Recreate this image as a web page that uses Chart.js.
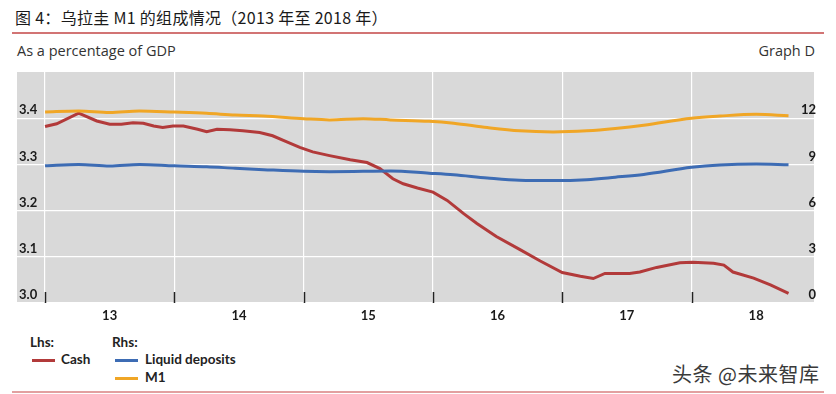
<!DOCTYPE html>
<html lang="zh">
<head>
    <meta charset="UTF-8">
    <title>乌拉圭 M1 的组成情况</title>
    <script src="https://cdn.jsdelivr.net/npm/chart.js"></script>
    <style>
body {
  margin: 0;
  padding: 0;
  width: 836px;
  height: 394px;
  background: #fff;
  position: relative;
  overflow: hidden;
  font-family: 'Open Sans', 'Noto Sans', sans-serif;
  color: #222;
}
.title {
  position: absolute;
  left: 15px;
  top: 5px;
  font-family: 'Noto Sans CJK SC', sans-serif;
  font-size: 16px;
  letter-spacing: 0.3px;
  color: #1a1a1a;
  white-space: nowrap;
}
.rule {
  position: absolute;
  left: 12px;
  width: 812px;
  height: 2px;
  background: #d27474;
}
.sub {
  position: absolute;
  top: 41px;
  font-size: 14.5px;
  color: #333;
}
#chartBox {
  position: absolute;
  left: 0;
  top: 60px;
  width: 836px;
  height: 270px;
}
.leg {
  position: absolute;
  font-family: 'Lato', sans-serif;
  font-weight: bold;
  font-size: 13.5px;
  color: #222;
  white-space: nowrap;
}
.sw {
  position: absolute;
  width: 23px;
  height: 3px;
}
.mark {
  position: absolute;
  left: 672px;
  top: 359px;
  font-family: 'Noto Sans CJK SC', sans-serif;
  font-size: 20px;
  letter-spacing: 0.5px;
  color: #3a3a3a;
  white-space: nowrap;
}
    </style>
</head>
<body>
    <div class="title">图 4：乌拉圭 M1 的组成情况（2013 年至 2018 年）</div>
    <div class="rule" style="top:32px"></div>
    <div class="sub" style="left:17px">As a percentage of GDP</div>
    <div class="sub" style="right:21px">Graph D</div>

    <div id="chartBox">
        <canvas id="myChart"></canvas>
    </div>

    <div class="leg" style="left:30px;top:334px">Lhs:</div>
    <div class="sw" style="left:32px;top:359px;background:#b23a3a"></div>
    <div class="leg" style="left:61px;top:351px">Cash</div>
    <div class="leg" style="left:112px;top:334px">Rhs:</div>
    <div class="sw" style="left:115px;top:359px;background:#3d6cb4"></div>
    <div class="leg" style="left:145px;top:351px">Liquid deposits</div>
    <div class="sw" style="left:115px;top:377px;background:#f0a626"></div>
    <div class="leg" style="left:145px;top:369px">M1</div>

    <div class="mark">头条 @未来智库</div>
    <div class="rule" style="top:391px;background:#e2a0a0"></div>

    <script>
        // x values are decimal years
        const yearTicks = [2013, 2014, 2015, 2016, 2017, 2018];

        // Lhs: cash, % of GDP
        const cashX = [2013.00, 2013.09, 2013.26, 2013.40, 2013.50, 2013.59, 2013.68, 2013.76, 2013.84, 2013.91,
                       2013.99, 2014.07, 2014.18, 2014.25, 2014.33, 2014.43, 2014.53, 2014.66, 2014.76, 2014.87,
                       2014.97, 2015.07, 2015.20, 2015.36, 2015.49, 2015.59, 2015.69, 2015.77, 2015.88, 2016.00,
                       2016.11, 2016.24, 2016.34, 2016.49, 2016.67, 2016.83, 2017.00, 2017.14, 2017.24, 2017.33,
                       2017.52, 2017.60, 2017.73, 2017.91, 2018.01, 2018.17, 2018.25, 2018.32, 2018.48, 2018.61, 2018.75];
        const cashY = [3.382, 3.388, 3.411, 3.394, 3.387, 3.387, 3.390, 3.389, 3.383, 3.380,
                       3.383, 3.383, 3.376, 3.371, 3.376, 3.375, 3.373, 3.369, 3.362, 3.349,
                       3.337, 3.327, 3.319, 3.310, 3.304, 3.291, 3.269, 3.258, 3.249, 3.240,
                       3.222, 3.193, 3.172, 3.144, 3.116, 3.091, 3.066, 3.058, 3.053, 3.064,
                       3.064, 3.067, 3.077, 3.087, 3.088, 3.086, 3.082, 3.067, 3.054, 3.039, 3.021];

        // Rhs: liquid deposits and M1, % of GDP
        const rhsX = [2013.00, 2013.26, 2013.50, 2013.73, 2014.00, 2014.25, 2014.47, 2014.69, 2015.00, 2015.20,
                      2015.46, 2015.67, 2015.97, 2016.16, 2016.42, 2016.67, 2016.93, 2017.19, 2017.41, 2017.63,
                      2018.00, 2018.22, 2018.50, 2018.75];
        const depositsY = [8.91, 9.00, 8.90, 9.00, 8.91, 8.85, 8.75, 8.66, 8.55, 8.53,
                           8.55, 8.57, 8.43, 8.33, 8.12, 7.97, 7.95, 8.01, 8.17, 8.35,
                           8.81, 8.96, 9.02, 8.98];
        const m1Y = [12.40, 12.47, 12.37, 12.47, 12.40, 12.32, 12.20, 12.14, 11.97, 11.89,
                     11.97, 11.89, 11.80, 11.67, 11.39, 11.18, 11.11, 11.18, 11.33, 11.54,
                     12.00, 12.14, 12.25, 12.16];

        function pts(xs, ys) {
            return xs.map(function(x, i) { return { x: x, y: ys[i] }; });
        }

        const axisFont = { family: 'Lato', size: 13, weight: 'bold' };

        const plotBg = {
            id: 'plotBg',
            beforeDraw: function(chart) {
                const a = chart.chartArea;
                const ctx = chart.ctx;
                ctx.save();
                ctx.fillStyle = '#d9d9d9';
                ctx.fillRect(a.left, a.top, a.right - a.left, a.bottom - a.top);
                ctx.restore();
            },
            afterDraw: function(chart) {
                // small dark tick marks at the foot of each year line
                const a = chart.chartArea;
                const xs = chart.scales.x;
                const ctx = chart.ctx;
                ctx.save();
                ctx.strokeStyle = '#222';
                ctx.lineWidth = 1.5;
                yearTicks.forEach(function(v) {
                    const px = Math.round(xs.getPixelForValue(v)) + 0.5;
                    ctx.beginPath();
                    ctx.moveTo(px, a.bottom - 11);
                    ctx.lineTo(px, a.bottom);
                    ctx.stroke();
                });
                ctx.restore();
            }
        };

        const ctx = document.getElementById('myChart').getContext('2d');
        new Chart(ctx, {
            type: 'line',
            data: {
                datasets: [
                    {
                        label: 'M1',
                        data: pts(rhsX, m1Y),
                        yAxisID: 'y1',
                        borderColor: '#f0a626',
                        borderWidth: 3,
                        pointRadius: 0,
                        cubicInterpolationMode: 'monotone'
                    },
                    {
                        label: 'Liquid deposits',
                        data: pts(rhsX, depositsY),
                        yAxisID: 'y1',
                        borderColor: '#3d6cb4',
                        borderWidth: 3,
                        pointRadius: 0,
                        cubicInterpolationMode: 'monotone'
                    },
                    {
                        label: 'Cash',
                        data: pts(cashX, cashY),
                        yAxisID: 'y',
                        borderColor: '#b23a3a',
                        borderWidth: 3,
                        pointRadius: 0,
                        tension: 0
                    }
                ]
            },
            options: {
                responsive: true,
                maintainAspectRatio: false,
                animation: false,
                layout: { padding: { left: 17, right: 22, top: 12, bottom: 0 } },
                plugins: {
                    legend: { display: false },
                    tooltip: { enabled: false }
                },
                scales: {
                    x: {
                        type: 'linear',
                        min: 2012.783,
                        max: 2018.947,
                        afterBuildTicks: function(s) {
                            s.ticks = yearTicks.map(function(v) { return { value: v }; });
                        },
                        afterFit: function(s) { s.height = 27; },
                        grid: { color: '#ffffff', lineWidth: 1.2, drawTicks: false },
                        border: { display: false },
                        ticks: {
                            autoSkip: false,
                            maxRotation: 0,
                            padding: 5,
                            labelOffset: 64.6,
                            color: '#1a1a1a',
                            font: axisFont,
                            callback: function(v) { return String(v).slice(2); }
                        }
                    },
                    y: {
                        position: 'left',
                        min: 3.0,
                        max: 3.5,
                        afterFit: function(s) { s.width = 0; },
                        grid: {
                            drawTicks: false,
                            lineWidth: 1.2,
                            color: function(c) { return c.tick && c.tick.value > 3.45 ? 'rgba(0,0,0,0)' : '#ffffff'; }
                        },
                        border: { display: false },
                        ticks: {
                            stepSize: 0.1,
                            mirror: true,
                            padding: 2,
                            labelOffset: -8,
                            color: '#1a1a1a',
                            font: axisFont,
                            callback: function(v) { return v > 3.45 ? '' : v.toFixed(1); }
                        }
                    },
                    y1: {
                        position: 'right',
                        min: 0,
                        max: 15,
                        afterFit: function(s) { s.width = 0; },
                        grid: { display: false, drawTicks: false },
                        border: { display: false },
                        ticks: {
                            stepSize: 3,
                            mirror: true,
                            padding: 2,
                            labelOffset: -8,
                            color: '#1a1a1a',
                            font: axisFont,
                            callback: function(v) { return v > 14 ? '' : String(v); }
                        }
                    }
                }
            },
            plugins: [plotBg]
        });
    </script>
</body>
</html>
